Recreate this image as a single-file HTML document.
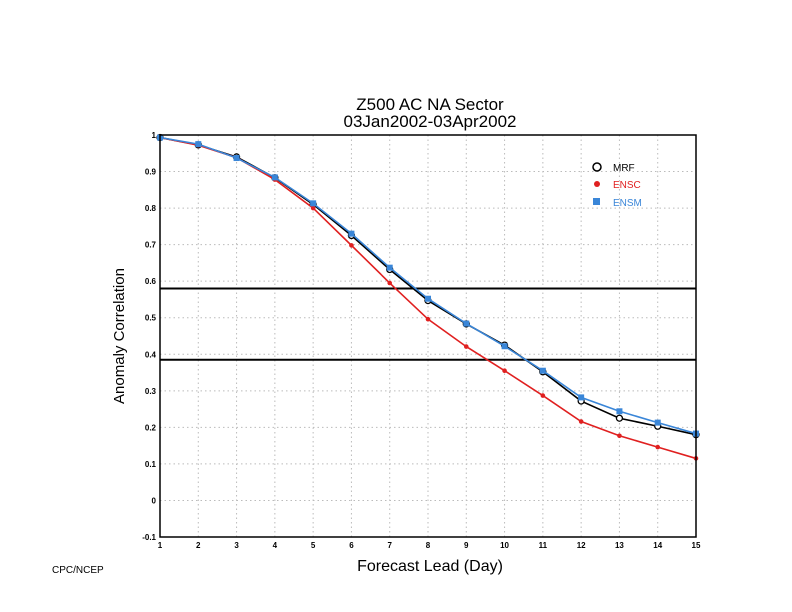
<!DOCTYPE html>
<html><head><meta charset="utf-8"><style>
body{margin:0;background:#fff;}
svg{display:block;font-family:"Liberation Sans",sans-serif;}
</style></head><body>
<svg id="chart" width="792" height="612" viewBox="0 0 792 612">
<text x="430" y="110" font-size="17" text-anchor="middle">Z500 AC NA Sector</text>
<text x="430" y="127" font-size="17" text-anchor="middle">03Jan2002-03Apr2002</text>
<g id="grid"></g>
<g id="ticks"></g>
<g id="series"></g>
<rect x="160" y="135" width="536" height="402" fill="none" stroke="#000" stroke-width="1.5"/>
<text x="124" y="336" font-size="15" text-anchor="middle" transform="rotate(-90 124 336)">Anomaly Correlation</text>
<text x="430" y="571" font-size="16" text-anchor="middle">Forecast Lead (Day)</text>
<text x="52" y="573" font-size="10">CPC/NCEP</text>
<g>
<circle cx="597" cy="167" r="4" fill="#fff" stroke="#000" stroke-width="1.5"/>
<text x="613" y="171" font-size="10">MRF</text>
<circle cx="597" cy="184" r="3" fill="#e02020"/>
<text x="613" y="188" font-size="10" fill="#e02020">ENSC</text>
<rect x="593" y="198" width="7" height="7" fill="#3a86d8"/>
<text x="613" y="206" font-size="10" fill="#3a86d8">ENSM</text>
</g>
</svg>
<script>
const days=[1,2,3,4,5,6,7,8,9,10,11,12,13,14,15];
const mrf=[0.993,0.973,0.940,0.883,0.810,0.725,0.632,0.547,0.483,0.425,0.352,0.272,0.225,0.203,0.180];
const ensc=[0.993,0.972,0.938,0.878,0.800,0.698,0.595,0.496,0.421,0.355,0.287,0.216,0.177,0.146,0.115];
const ensm=[0.993,0.975,0.937,0.884,0.813,0.730,0.637,0.552,0.484,0.422,0.355,0.282,0.244,0.213,0.183];
const yTicks=[-0.1,0,0.1,0.2,0.3,0.4,0.5,0.6,0.7,0.8,0.9,1];
const yTickLabels=["-0.1","0","0.1","0.2","0.3","0.4","0.5","0.6","0.7","0.8","0.9","1"];
const refLines=[0.58,0.385];
const NS="http://www.w3.org/2000/svg";
const x=d=>160+(d-1)*(536/14);
const y=v=>537-(v+0.1)*(402/1.1);
function mk(tag,attrs,parent){const e=document.createElementNS(NS,tag);for(const k in attrs)e.setAttribute(k,attrs[k]);parent.appendChild(e);return e;}
const grid=document.getElementById('grid'),ticks=document.getElementById('ticks'),ser=document.getElementById('series');
yTicks.forEach((t,i)=>{
 if(i>0&&i<yTicks.length-1){const l=mk('line',{x1:160,x2:696,y1:y(t),y2:y(t),stroke:'#bbb','stroke-dasharray':'1.5,3'},grid);
 
 }
 const tx=mk('text',{x:156,y:y(t)+3,'font-size':8,'font-weight':'bold','text-anchor':'end'},ticks);tx.textContent=yTickLabels[i];
 
 
});
days.forEach(d=>{
 if(d>1&&d<15){const l=mk('line',{x1:x(d),x2:x(d),y1:135,y2:537,stroke:'#bbb','stroke-dasharray':'1.5,3'},grid);
 
 }
 const tx=mk('text',{x:x(d),y:548,'font-size':8,'font-weight':'bold','text-anchor':'middle'},ticks);tx.textContent=d;
 
 
});
refLines.forEach(v=>{const l=mk('line',{x1:160,x2:696,y1:y(v),y2:y(v),stroke:'#000','stroke-width':2},grid);
 
 });
function series(vals,color,name,marker){
 const p=mk('polyline',{points:vals.map((v,i)=>x(days[i])+','+y(v)).join(' '),fill:'none',stroke:color,'stroke-width':1.6},ser);
 
 
 vals.forEach((v,i)=>{let m;
  if(marker==='o')m=mk('circle',{cx:x(days[i]),cy:y(v),r:3,fill:'#fff',stroke:color,'stroke-width':1.3},ser);
  else if(marker==='dot')m=mk('circle',{cx:x(days[i]),cy:y(v),r:2.3,fill:color},ser);
  else m=mk('rect',{x:x(days[i])-3,y:y(v)-3,width:6,height:6,fill:color},ser);
  
  
 });
}
series(mrf,'#000','mrf','o');
series(ensc,'#e02020','ensc','dot');
series(ensm,'#3a86d8','ensm','sq');
</script>
</body></html>
